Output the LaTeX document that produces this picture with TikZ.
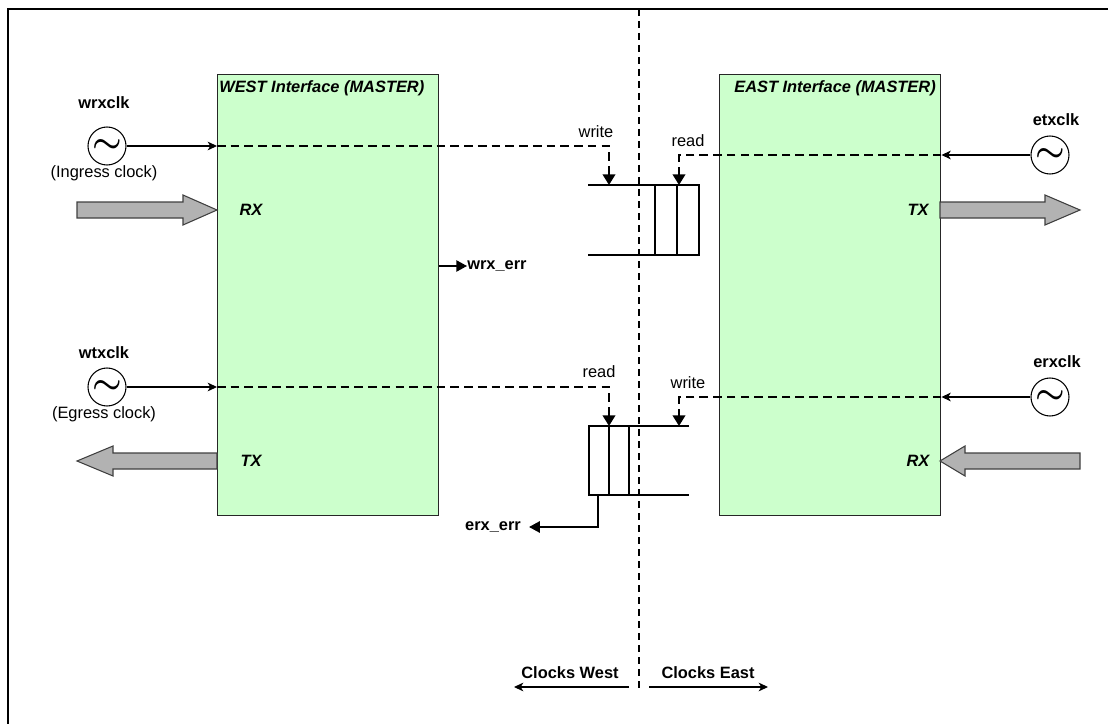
\documentclass[tikz,border=0pt]{standalone}
\usepackage{fontspec}
\setmainfont{Liberation Sans}
\usepackage{tikz}
\usetikzlibrary{arrows.meta, positioning, calc}

\definecolor{ifgreen}{HTML}{CCFFCC}
\definecolor{fatgray}{HTML}{B2B2B2}

\begin{document}
\begin{tikzpicture}[
    x=0.75pt, y=-0.75pt,
    lbl/.style={font=\fontsize{12.3}{14}\selectfont, inner sep=0pt},
    blbl/.style={font=\fontsize{12.3}{14}\selectfont\bfseries, inner sep=0pt},
    ilbl/.style={font=\fontsize{12.3}{14}\selectfont\bfseries\itshape, inner sep=0pt},
    ifbox/.style={rectangle, draw=black!85, line width=1.1pt, fill=ifgreen, minimum width=165.75pt, minimum height=330.75pt, anchor=north west, inner sep=0pt},
    clk/.style={circle, draw=black, line width=0.8pt, fill=white, minimum size=28.5pt, inner sep=0pt, font=\fontsize{26}{26}\selectfont\boldmath},
    clkarr/.style={-{Stealth[length=7pt, width=6.5pt, inset=2pt]}, line width=0.8pt},
    dsig/.style={line width=1.3pt, dash pattern=on 6.5pt off 3.8pt, -{Triangle[length=8pt, width=9.5pt]}},
    errarr/.style={line width=1pt, -{Triangle[length=8pt, width=8.5pt]}},
    fat/.style={draw=black!75, fill=fatgray, line width=0.8pt, line join=miter},
    fifo/.style={line width=1.2pt},
    midline/.style={line width=1.5pt, dash pattern=on 5.5pt off 3.5pt}
]
    \useasboundingbox (0,0) rectangle (1108,724);

    % frame
    \draw[line width=2.2pt] (8,724) -- (8,9) -- (1108,9);

    % interface boxes
    \node[ifbox] (west) at (217,74) {};
    \node[ifbox] (east) at (719,74) {};
    \node[ilbl, anchor=west] (wtitle) at (219,88) {WEST Interface (MASTER)};
    \node[ilbl, anchor=east] (etitle) at (936,88) {EAST Interface (MASTER)};

    % clock domain boundary
    \draw[midline] (639,9) -- (639,688);

    % data paths
    \draw[fat] (77,202) -- (183,202) -- (183,195) -- (217,210) -- (183,225) -- (183,218) -- (77,218) -- cycle;
    \draw[fat] (940,202) -- (1045,202) -- (1045,195) -- (1080,210) -- (1045,225) -- (1045,218) -- (940,218) -- cycle;
    \draw[fat] (217,453) -- (113,453) -- (113,446) -- (77,461) -- (113,476) -- (113,469) -- (217,469) -- cycle;
    \draw[fat] (1080,453) -- (965,453) -- (965,446) -- (940,461) -- (965,476) -- (965,469) -- (1080,469) -- cycle;
    \node[ilbl] (wrxtag) at (251,210) {RX};
    \node[ilbl] (wtxtag) at (251,461) {TX};
    \node[ilbl] (etxtag) at (918,210) {TX};
    \node[ilbl] (erxtag) at (918,461) {RX};

    % clocks
    \node[clk] (wrx) at (107,146) {$\sim$};
    \node[blbl] (wrxlbl) at (104,103) {wrxclk};
    \node[lbl] (wrxnote) at (104,173) {(Ingress clock)};
    \node[clk] (wtx) at (107,387) {$\sim$};
    \node[blbl] (wtxlbl) at (104,353) {wtxclk};
    \node[lbl] (wtxnote) at (104,414) {(Egress clock)};
    \node[clk] (etx) at (1050,155) {$\sim$};
    \node[blbl] (etxlbl) at (1056,120) {etxclk};
    \node[clk] (erx) at (1050,397) {$\sim$};
    \node[blbl] (erxlbl) at (1057,362) {erxclk};

    \draw[clkarr] (wrx) -- (west.west |- wrx);
    \draw[clkarr] (wtx) -- (west.west |- wtx);
    \draw[clkarr] (etx) -- (east.east |- etx);
    \draw[clkarr] (erx) -- (east.east |- erx);

    % fifos
    \draw[fifo] (588,185) -- (699,185) -- (699,255) -- (588,255);
    \draw[fifo] (655,185) -- (655,255) (677,185) -- (677,255);
    \draw[fifo] (689,426) -- (589,426) -- (589,495) -- (689,495);
    \draw[fifo] (609,426) -- (609,495) (629,426) -- (629,495);
    \coordinate (wrtop) at (609,185);
    \coordinate (rdtop) at (679,185);
    \coordinate (rdbot) at (609,426);
    \coordinate (wrbot) at (679,426);
    \coordinate (fbot) at (598,495);

    % write / read pointers
    \draw[dsig] (west.west |- wrx) -| (wrtop);
    \draw[dsig] (east.east |- etx) -| (rdtop);
    \draw[dsig] (west.west |- wtx) -| (rdbot);
    \draw[dsig] (east.east |- erx) -| (wrbot);
    \node[lbl] (wr1) at (596,132) {write};
    \node[lbl] (rd1) at (688,141) {read};
    \node[lbl] (rd2) at (599,372) {read};
    \node[lbl] (wr2) at (688,383) {write};

    % errors
    \node[blbl, anchor=west] (wrxerr) at (467,266) {wrx\_err};
    \draw[errarr] (west.east |- wrxerr) -- (wrxerr.west);
    \node[blbl] (erxerr) at (493,527) {erx\_err};
    \draw[errarr] (fbot) |- ([xshift=6pt]erxerr.east);

    % clock domains
    \node[blbl] (cwlbl) at (570,673) {Clocks West};
    \node[blbl] (celbl) at (708,673) {Clocks East};
    \coordinate (cwa) at (629,687);
    \coordinate (cwb) at (514,687);
    \coordinate (cea) at (649,687);
    \coordinate (ceb) at (768,687);
    \draw[clkarr] (cwa) -- (cwb);
    \draw[clkarr] (cea) -- (ceb);
\end{tikzpicture}
\end{document}
